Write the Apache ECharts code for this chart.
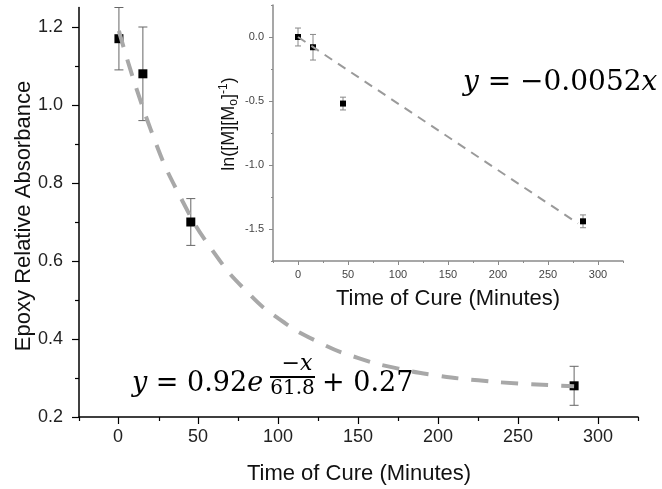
<!DOCTYPE html>
<html>
<head>
<meta charset="utf-8">
<script src="https://cdn.jsdelivr.net/npm/echarts@6/dist/echarts.min.js"></script>
<style>
  html, body { margin: 0; padding: 0; background: #fff; }
  #chart { width: 662px; height: 489px; }
</style>
</head>
<body>
<div id="chart"></div>
<script>
// Epoxy relative absorbance vs. cure time (mean ± error)
const cureTime = [0, 15, 45, 285];
const epoxyAbs = [1.17, 1.08, 0.70, 0.28];
const epoxyErr = [0.08, 0.12, 0.06, 0.05];

// Exponential decay fit curve, sampled along the drawn fit
const fitTime = [0, 20, 40, 60, 80, 100, 125, 150, 175, 200, 225, 250, 285];
const fitAbs = [1.19, 0.936, 0.752, 0.619, 0.522, 0.452, 0.392, 0.351, 0.324, 0.306, 0.294, 0.286, 0.279];

// Inset: ln([M][Mo]^-1) vs. cure time
const lnTime = [0, 15, 45, 285];
const lnVal = [0.0, -0.08, -0.52, -1.44];
const lnErr = [0.07, 0.10, 0.05, 0.05];

// Linear fit y = -0.0052x
const lnFitTime = [0, 280];
const lnFitVal = [0, -1.456];

const FONT = '"Liberation Sans", Arial, sans-serif';
const MATH = '"DejaVu Serif", serif';

function zip3(a, b, c) { return a.map((v, i) => [v, b[i], c[i]]); }
function zip2(a, b) { return a.map((v, i) => [v, b[i]]); }

function errorBars(capHalf, color) {
  return function (params, api) {
    const x = api.value(0), y = api.value(1), e = api.value(2);
    const top = api.coord([x, y + e]);
    const bot = api.coord([x, y - e]);
    const st = { stroke: color, lineWidth: 1 };
    return {
      type: 'group',
      children: [
        { type: 'line', shape: { x1: top[0], y1: top[1], x2: bot[0], y2: bot[1] }, style: st },
        { type: 'line', shape: { x1: top[0] - capHalf, y1: top[1], x2: top[0] + capHalf, y2: top[1] }, style: st },
        { type: 'line', shape: { x1: bot[0] - capHalf, y1: bot[1], x2: bot[0] + capHalf, y2: bot[1] }, style: st }
      ]
    };
  };
}

const hidden = (min, max) => ({ type: 'value', show: false, min: min, max: max });

const mainLine = { show: true, onZero: false, lineStyle: { color: '#000', width: 1.5 } };
const insetLine = { show: true, onZero: false, lineStyle: { color: '#8a8a8a', width: 1.5 } };
const noLine = { show: false, onZero: false };

const option = {
  animation: false,
  backgroundColor: '#fff',
  grid: [
    { left: 79, right: 24, top: 7.5, bottom: 72 },   // 0 main plot
    { left: 118, right: 64, top: 7.5, bottom: 72 },  // 1 main x major ticks
    { left: 79, right: 24, top: 27, bottom: 72 },    // 2 main y major ticks
    { left: 79, right: 24, top: 66, bottom: 111 },   // 3 main y minor ticks
    { left: 273, right: 39, top: 5, bottom: 228 },   // 4 inset plot
    { left: 298, right: 64, top: 5, bottom: 228 },   // 5 inset x major ticks
    { left: 273, right: 39, top: 37, bottom: 260 }   // 6 inset y major ticks
  ],
  xAxis: [
    { gridIndex: 0, type: 'value', min: -25, max: 325, interval: 50,
      axisLine: mainLine, axisTick: { show: true, length: 4, lineStyle: { color: '#000', width: 1.2 } },
      axisLabel: { show: false }, splitLine: { show: false } },
    { gridIndex: 1, type: 'value', min: 0, max: 300, interval: 50,
      axisLine: noLine, axisTick: { show: true, length: 7, lineStyle: { color: '#000', width: 1.2 } },
      axisLabel: { show: true, margin: 11, fontFamily: FONT, fontSize: 18, color: '#222' },
      splitLine: { show: false } },
    Object.assign(hidden(0, 1), { gridIndex: 2, axisLine: noLine }),
    Object.assign(hidden(0, 1), { gridIndex: 3, axisLine: noLine }),
    { gridIndex: 4, type: 'value', min: -25, max: 325, interval: 50,
      axisLine: insetLine, axisTick: { show: true, length: 2, lineStyle: { color: '#8a8a8a' } },
      axisLabel: { show: false }, splitLine: { show: false } },
    { gridIndex: 5, type: 'value', min: 0, max: 300, interval: 50,
      axisLine: noLine, axisTick: { show: true, length: 4, lineStyle: { color: '#8a8a8a' } },
      axisLabel: { show: true, margin: 8, fontFamily: FONT, fontSize: 11, color: '#444' },
      splitLine: { show: false } },
    Object.assign(hidden(0, 1), { gridIndex: 6, axisLine: noLine })
  ],
  yAxis: [
    { gridIndex: 0, type: 'value', min: 0.2, max: 1.25,
      axisLine: mainLine, axisTick: { show: false }, axisLabel: { show: false }, splitLine: { show: false } },
    Object.assign(hidden(0, 1), { gridIndex: 1, axisLine: noLine }),
    { gridIndex: 2, type: 'value', min: 0.2, max: 1.2, interval: 0.2,
      axisLine: noLine, axisTick: { show: true, length: 7, lineStyle: { color: '#000', width: 1.2 } },
      axisLabel: { show: true, margin: 16, fontFamily: FONT, fontSize: 18, color: '#222',
                   formatter: v => v.toFixed(1) },
      splitLine: { show: false } },
    { gridIndex: 3, type: 'value', min: 0.3, max: 1.1, interval: 0.2,
      axisLine: noLine, axisTick: { show: true, length: 4, lineStyle: { color: '#000', width: 1.2 } },
      axisLabel: { show: false }, splitLine: { show: false } },
    { gridIndex: 4, type: 'value', min: -1.75, max: 0.25, interval: 0.5,
      axisLine: insetLine, axisTick: { show: true, length: 2, lineStyle: { color: '#8a8a8a' } },
      axisLabel: { show: false }, splitLine: { show: false } },
    Object.assign(hidden(0, 1), { gridIndex: 5, axisLine: noLine }),
    { gridIndex: 6, type: 'value', min: -1.5, max: 0, interval: 0.5,
      axisLine: noLine, axisTick: { show: true, length: 4, lineStyle: { color: '#8a8a8a' } },
      axisLabel: { show: true, margin: 9, fontFamily: FONT, fontSize: 11, color: '#444',
                   formatter: v => v.toFixed(1) },
      splitLine: { show: false } }
  ],
  series: [
    { type: 'custom', xAxisIndex: 0, yAxisIndex: 0, z: 2,
      renderItem: errorBars(4.5, '#666'),
      encode: { x: 0, y: 1 },
      data: zip3(cureTime, epoxyAbs, epoxyErr) },
    { type: 'scatter', xAxisIndex: 0, yAxisIndex: 0, z: 3,
      symbol: 'rect', symbolSize: 9, itemStyle: { color: '#000', opacity: 1 },
      data: zip2(cureTime, epoxyAbs) },
    { type: 'line', xAxisIndex: 0, yAxisIndex: 0, z: 4, smooth: true,
      showSymbol: false, symbol: 'none',
      lineStyle: { color: '#a8a8a8', width: 4, type: [17, 13] },
      data: zip2(fitTime, fitAbs) },

    { type: 'custom', xAxisIndex: 4, yAxisIndex: 4, z: 2,
      renderItem: errorBars(3, '#888'),
      encode: { x: 0, y: 1 },
      data: zip3(lnTime, lnVal, lnErr) },
    { type: 'scatter', xAxisIndex: 4, yAxisIndex: 4, z: 3,
      symbol: 'rect', symbolSize: 6, itemStyle: { color: '#000', opacity: 1 },
      data: zip2(lnTime, lnVal) },
    { type: 'line', xAxisIndex: 4, yAxisIndex: 4, z: 4, showSymbol: false, symbol: 'none',
      lineStyle: { color: '#9a9a9a', width: 2, type: [9, 7] },
      data: zip2(lnFitTime, lnFitVal) }
  ],
  graphic: [
    // axis titles
    { type: 'text', x: 359, y: 474,
      style: { text: 'Time of Cure (Minutes)', font: '22px ' + FONT, fill: '#111',
               textAlign: 'center', textVerticalAlign: 'middle' } },
    { type: 'text', x: 24, y: 216, rotation: Math.PI / 2,
      style: { text: 'Epoxy Relative Absorbance', font: '22px ' + FONT, fill: '#111',
               textAlign: 'center', textVerticalAlign: 'middle' } },
    { type: 'text', x: 448, y: 299,
      style: { text: 'Time of Cure (Minutes)', font: '22px ' + FONT, fill: '#111',
               textAlign: 'center', textVerticalAlign: 'middle' } },
    { type: 'text', x: 229, y: 124, rotation: Math.PI / 2,
      style: { text: 'ln([M][M{sub|o}]{sup|-1})', font: '18px ' + FONT, fill: '#111',
               textAlign: 'center', textVerticalAlign: 'middle',
               rich: {
                 sub: { fontFamily: FONT, fontSize: 12, fill: '#111', padding: [10, 0, 0, 0] },
                 sup: { fontFamily: FONT, fontSize: 12, fill: '#111', padding: [0, 0, 10, 0] }
               } } },

    // fit equations
    { type: 'text', x: 132, y: 384,
      style: { text: '{i|y} = 0.92{i|e}', font: '27px ' + MATH, fill: '#000',
               textAlign: 'left', textVerticalAlign: 'middle',
               rich: { i: { fontFamily: MATH, fontSize: 27, fontStyle: 'italic', fill: '#000' } } } },
    { type: 'text', x: 297, y: 364,
      style: { text: '−{i|x}', font: '22px ' + MATH, fill: '#000',
               textAlign: 'center', textVerticalAlign: 'middle',
               rich: { i: { fontFamily: MATH, fontSize: 22, fontStyle: 'italic', fill: '#000' } } } },
    { type: 'line', shape: { x1: 270, y1: 377, x2: 315, y2: 377 }, style: { stroke: '#000', lineWidth: 2 } },
    { type: 'text', x: 292.5, y: 389,
      style: { text: '61.8', font: '20px ' + MATH, fill: '#000',
               textAlign: 'center', textVerticalAlign: 'middle' } },
    { type: 'text', x: 322, y: 384,
      style: { text: '+ 0.27', font: '27px ' + MATH, fill: '#000',
               textAlign: 'left', textVerticalAlign: 'middle' } },
    { type: 'text', x: 463, y: 83,
      style: { text: '{i|y} = −0.0052{i|x}', font: '28px ' + MATH, fill: '#000',
               textAlign: 'left', textVerticalAlign: 'middle',
               rich: { i: { fontFamily: MATH, fontSize: 28, fontStyle: 'italic', fill: '#000' } } } }
  ]
};

const chart = echarts.init(document.getElementById('chart'), null, { renderer: 'canvas' });
chart.setOption(option);
</script>
</body>
</html>
